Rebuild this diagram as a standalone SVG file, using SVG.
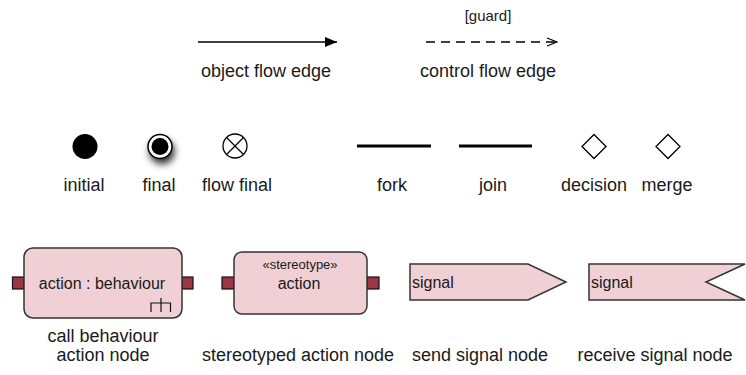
<svg xmlns="http://www.w3.org/2000/svg" width="746" height="375" viewBox="0 0 746 375">
  <defs>
    <marker id="solidHead" viewBox="0 0 12 10" refX="12" refY="5" markerWidth="12" markerHeight="10" markerUnits="userSpaceOnUse" orient="auto">
      <path d="M0,0 L12,5 L0,10 Z" fill="#000"/>
    </marker>
    <marker id="openHead" viewBox="0 0 12 10" refX="11" refY="5" markerWidth="12" markerHeight="10" markerUnits="userSpaceOnUse" orient="auto">
      <path d="M1,1 L11,5 L1,9" fill="none" stroke="#000" stroke-width="1.2"/>
    </marker>
    <filter id="shadow" x="-80%" y="-80%" width="260%" height="260%">
      <feGaussianBlur in="SourceAlpha" stdDeviation="3.5"/>
      <feOffset dx="2" dy="5" result="b"/>
      <feComponentTransfer><feFuncA type="linear" slope="0.8"/></feComponentTransfer>
      <feMerge><feMergeNode/><feMergeNode in="SourceGraphic"/></feMerge>
    </filter>
  </defs>
  <style>
    text { font-family: "Liberation Sans", Arial, sans-serif; fill: #1a1a1a; }
    .lbl { font-size: 18px; text-anchor: middle; }
    .small { font-size: 15px; text-anchor: middle; }
    .inner { font-size: 16px; }
    .box { fill: #f0d0d5; stroke: #333; stroke-width: 1.5; }
    .pin { fill: #9b3645; stroke: #111; stroke-width: 1.2; }
    .edge { fill: none; stroke: #000; stroke-width: 1.5; }
    .bar { stroke: #000; stroke-width: 3; }
    .diamond { fill: #fff; stroke: #000; stroke-width: 1.3; }
  </style>

  <!-- edges -->
  <g id="connectors">
    <line class="edge" x1="198" y1="42" x2="337" y2="42" marker-end="url(#solidHead)"/>
    <line class="edge" x1="426" y1="42" x2="557" y2="42" stroke-dasharray="9 6" marker-end="url(#openHead)"/>
  </g>
  <text class="lbl" x="266" y="77">object flow edge</text>
  <text class="small" x="488" y="21">[guard]</text>
  <text class="lbl" x="488" y="77">control flow edge</text>

  <!-- control nodes -->
  <g id="initial">
    <circle cx="85" cy="146.5" r="12.5" fill="#000"/>
    <text class="lbl" x="84" y="191">initial</text>
  </g>
  <g id="final">
    <g filter="url(#shadow)">
      <circle cx="160" cy="146.5" r="12" fill="#fff" stroke="#000" stroke-width="1.5"/>
    </g>
    <circle cx="160" cy="146.5" r="8.5" fill="#000"/>
    <text class="lbl" x="159" y="191">final</text>
  </g>
  <g id="flowfinal">
    <circle cx="235" cy="146" r="12" fill="#fff" stroke="#000" stroke-width="1.3"/>
    <path d="M226.5,137.5 L243.5,154.5 M243.5,137.5 L226.5,154.5" stroke="#000" stroke-width="1.2"/>
    <text class="lbl" x="237" y="191">flow final</text>
  </g>
  <g id="fork">
    <line class="bar" x1="357" y1="146" x2="431" y2="146"/>
    <text class="lbl" x="392" y="191">fork</text>
  </g>
  <g id="join">
    <line class="bar" x1="459" y1="146" x2="532" y2="146"/>
    <text class="lbl" x="493" y="191">join</text>
  </g>
  <g id="decision">
    <path class="diamond" d="M594,134.5 L606,146.5 L594,158.5 L582,146.5 Z"/>
    <text class="lbl" x="594" y="191">decision</text>
  </g>
  <g id="merge">
    <path class="diamond" d="M668,134.5 L680,146.5 L668,158.5 L656,146.5 Z"/>
    <text class="lbl" x="667" y="191">merge</text>
  </g>

  <!-- action nodes -->
  <g id="callBehaviour">
    <rect class="pin" x="12.5" y="277" width="11.5" height="12"/>
    <rect class="pin" x="182" y="277" width="11" height="12"/>
    <rect class="box" x="24" y="248" width="158" height="70" rx="9"/>
    <text class="inner" x="102" y="289" text-anchor="middle">action : behaviour</text>
    <path d="M161,298 V312 M151,312 V303 H170.5 V312" fill="none" stroke="#111" stroke-width="1.2"/>
    <text class="lbl" x="103" y="342">call behaviour</text>
    <text class="lbl" x="103" y="361">action node</text>
  </g>
  <g id="stereotypedAction">
    <rect class="pin" x="222" y="277" width="12" height="12"/>
    <rect class="pin" x="367" y="277" width="12" height="12"/>
    <rect class="box" x="234" y="252" width="133" height="62" rx="8"/>
    <text x="300" y="269" font-size="13" text-anchor="middle">«stereotype»</text>
    <text class="inner" x="299" y="289" text-anchor="middle">action</text>
    <text class="lbl" x="298" y="361">stereotyped action node</text>
  </g>
  <g id="sendSignal">
    <path class="box" d="M410,264 H528 L566,282 L528,300 H410 Z"/>
    <text class="inner" x="412" y="288">signal</text>
    <text class="lbl" x="480" y="361">send signal node</text>
  </g>
  <g id="receiveSignal">
    <path class="box" d="M589,264 H745 L706,282 L745,300 H589 Z"/>
    <text class="inner" x="591" y="288">signal</text>
    <text class="lbl" x="655" y="361">receive signal node</text>
  </g>
</svg>
